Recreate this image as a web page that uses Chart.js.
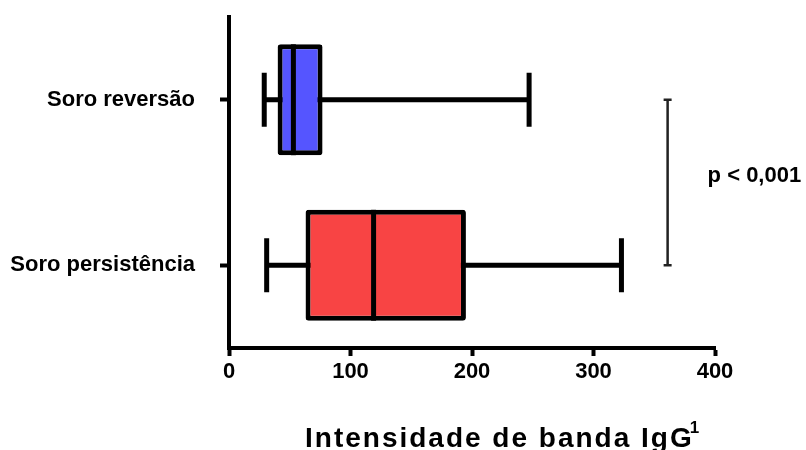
<!DOCTYPE html>
<html>
<head>
<meta charset="utf-8">
<script src="https://cdn.jsdelivr.net/npm/chart.js@4/dist/chart.umd.min.js"></script>
<style>
  html, body { margin: 0; padding: 0; background: #fff; }
  #wrap { width: 806px; height: 450px; }
</style>
</head>
<body>
<div id="wrap"><canvas id="chart"></canvas></div>
<script>
// dados do box plot
const categories = ["Soro reversão", "Soro persistência"];
const minValues = [29, 31];
const q1Values = [40, 63];
const medianValues = [53, 119];
const q3Values = [77, 195];
const maxValues = [247, 323];
const xTicks = [0, 100, 200, 300, 400];
const boxColors = ["#5555ff", "#f84444"];
const pLabel = "p < 0,001";
const pBracketAt = 361;
const axisTitle = "Intensidade de banda IgG";
const axisTitleSup = "1";

const FONT = "'Liberation Sans', Arial, sans-serif";

// bigodes (antes das caixas) e mediana, colchete e título (depois)
const boxPlotPlugin = {
    id: "boxPlot",
    beforeDatasetsDraw(chart) {
        const ctx = chart.ctx;
        const x = chart.scales.x;
        const y = chart.scales.y;
        ctx.save();
        ctx.strokeStyle = "#000";
        ctx.lineWidth = 5;
        ctx.lineCap = "butt";
        categories.forEach((c, i) => {
            const cy = y.getPixelForValue(i);
            const x0 = x.getPixelForValue(minValues[i]);
            const x1 = x.getPixelForValue(maxValues[i]);
            ctx.beginPath();
            ctx.moveTo(x0, cy);
            ctx.lineTo(x1, cy);
            ctx.moveTo(x0, cy - 27);
            ctx.lineTo(x0, cy + 27);
            ctx.moveTo(x1, cy - 27);
            ctx.lineTo(x1, cy + 27);
            ctx.stroke();
        });
        ctx.restore();
    },
    afterDatasetsDraw(chart) {
        const ctx = chart.ctx;
        const x = chart.scales.x;
        const y = chart.scales.y;
        const meta = chart.getDatasetMeta(0);
        ctx.save();
        ctx.strokeStyle = "#000";
        ctx.lineWidth = 5;
        meta.data.forEach((bar, i) => {
            const mx = x.getPixelForValue(medianValues[i]);
            const h = bar.height / 2;
            ctx.beginPath();
            ctx.moveTo(mx, bar.y - h);
            ctx.lineTo(mx, bar.y + h);
            ctx.stroke();
        });

        // colchete do p-valor
        const bx = x.getPixelForValue(pBracketAt);
        const yTop = y.getPixelForValue(0);
        const yBot = y.getPixelForValue(1);
        ctx.strokeStyle = "#222";
        ctx.lineWidth = 2.5;
        ctx.beginPath();
        ctx.moveTo(bx, yTop);
        ctx.lineTo(bx, yBot);
        ctx.moveTo(bx - 4, yTop);
        ctx.lineTo(bx + 4, yTop);
        ctx.moveTo(bx - 4, yBot);
        ctx.lineTo(bx + 4, yBot);
        ctx.stroke();

        ctx.fillStyle = "#000";
        ctx.font = "bold 22px " + FONT;
        ctx.textAlign = "left";
        ctx.textBaseline = "middle";
        ctx.fillText(pLabel, bx + 40, (yTop + yBot) / 2 - 7);
        ctx.restore();
    },
    afterDraw(chart) {
        // título do eixo x com sobrescrito
        const ctx = chart.ctx;
        const area = chart.chartArea;
        ctx.save();
        ctx.fillStyle = "#000";
        ctx.font = "bold 28px " + FONT;
        ctx.letterSpacing = "2px";
        ctx.textBaseline = "alphabetic";
        ctx.textAlign = "left";
        const w = ctx.measureText(axisTitle).width;
        const left = area.left + 76;
        ctx.fillText(axisTitle, left, 447);
        ctx.font = "bold 17px " + FONT;
        ctx.letterSpacing = "0px";
        ctx.fillText(axisTitleSup, left + w - 4, 433);
        ctx.restore();
    }
};

new Chart(document.getElementById("chart"), {
    type: "bar",
    data: {
        labels: categories,
        datasets: [{
            data: q1Values.map((q, i) => [q, q3Values[i]]),
            backgroundColor: boxColors,
            borderColor: "#000",
            borderWidth: 5,
            borderSkipped: false,
            borderRadius: 3,
            barPercentage: 0.67,
            categoryPercentage: 1
        }]
    },
    options: {
        indexAxis: "y",
        responsive: true,
        maintainAspectRatio: false,
        animation: false,
        layout: { padding: { top: 17, right: 91, left: 0, bottom: 0 } },
        plugins: {
            legend: { display: false },
            tooltip: { enabled: false }
        },
        scales: {
            x: {
                min: 0,
                max: 400,
                afterBuildTicks: scale => { scale.ticks = xTicks.map(v => ({ value: v })); },
                afterFit: scale => {
                    scale.height = 102;
                    scale.paddingLeft = 0;
                    scale.paddingRight = 0;
                },
                border: { display: true, color: "#000", width: 4 },
                grid: { drawOnChartArea: false, drawTicks: true, tickLength: 8, tickWidth: 4, tickColor: "#000" },
                ticks: { color: "#000", font: { family: FONT, size: 22, weight: "bold" }, padding: 3 }
            },
            y: {
                afterFit: scale => {
                    scale.width = 229;
                    scale.paddingTop = 0;
                    scale.paddingBottom = 0;
                },
                border: { display: true, color: "#000", width: 4 },
                grid: { offset: false, drawOnChartArea: false, drawTicks: true, tickLength: 9, tickWidth: 4, tickColor: "#000" },
                ticks: { color: "#000", font: { family: FONT, size: 22, weight: "bold" }, padding: 25 }
            }
        }
    },
    plugins: [boxPlotPlugin]
});
</script>
</body>
</html>
